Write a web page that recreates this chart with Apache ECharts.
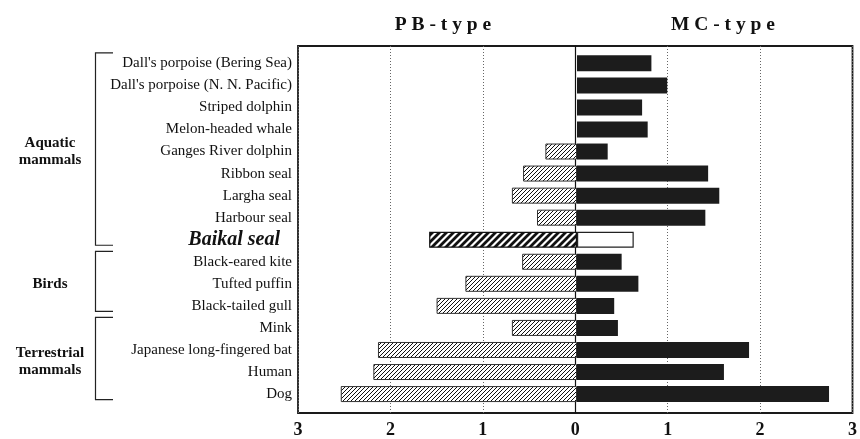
<!DOCTYPE html>
<html>
<head>
<meta charset="utf-8">
<script src="https://cdn.jsdelivr.net/npm/echarts@6/dist/echarts.min.js"></script>
<style>
  html, body { margin: 0; padding: 0; background: #fff; }
  #chart { width: 860px; height: 439px; }
</style>
</head>
<body>
<div id="chart"></div>
<script>
// Species, top to bottom
const categories = [
  "Dall's porpoise (Bering Sea)",
  "Dall's porpoise (N. N. Pacific)",
  "Striped dolphin",
  "Melon-headed whale",
  "Ganges River dolphin",
  "Ribbon seal",
  "Largha seal",
  "Harbour seal",
  "Baikal seal",
  "Black-eared kite",
  "Tufted puffin",
  "Black-tailed gull",
  "Mink",
  "Japanese long-fingered bat",
  "Human",
  "Dog"
];

// PB-type values (drawn to the left of zero)
const pbValues = [null, null, null, null, 0.34, 0.58, 0.70, 0.43, 1.59, 0.59, 1.20, 1.51, 0.70, 2.14, 2.19, 2.54];
// MC-type values (drawn to the right of zero)
const mcValues = [0.80, 0.97, 0.70, 0.76, 0.33, 1.41, 1.53, 1.38, 0.61, 0.48, 0.66, 0.40, 0.44, 1.85, 1.58, 2.71];

// Axis extent, shown as absolute values on both sides
const axisMin = -3;
const axisMax = 3;
const axisStep = 1;

const highlight = "Baikal seal";

const groups = [
  { name: "Aquatic\nmammals", from: 0, to: 8 },
  { name: "Birds", from: 9, to: 11 },
  { name: "Terrestrial\nmammals", from: 12, to: 15 }
];

const serif = "'Liberation Serif', 'Times New Roman', serif";

// Diagonal hatch fill made on a small canvas tile
function hatch(size, width, bg) {
  const c = document.createElement('canvas');
  c.width = size; c.height = size;
  const ctx = c.getContext('2d');
  ctx.fillStyle = bg;
  ctx.fillRect(0, 0, size, size);
  ctx.strokeStyle = '#111';
  ctx.lineWidth = width;
  ctx.lineCap = 'square';
  ctx.beginPath();
  ctx.moveTo(-1, 1); ctx.lineTo(1, -1);
  ctx.moveTo(0, size); ctx.lineTo(size, 0);
  ctx.moveTo(size - 1, size + 1); ctx.lineTo(size + 1, size - 1);
  ctx.stroke();
  return { image: c, repeat: 'repeat' };
}

const fineHatch = hatch(4, 1, '#fff');
const boldHatch = hatch(7, 2.8, '#fff');

const hi = categories.indexOf(highlight);

const pbData = pbValues.map((v, i) => {
  if (v === null) return '-';
  return {
    value: -v,
    itemStyle: i === hi
      ? { color: boldHatch, borderColor: '#111', borderWidth: 1.2 }
      : { color: fineHatch, borderColor: '#333', borderWidth: 1 }
  };
});

const mcData = mcValues.map((v, i) => ({
  value: v,
  itemStyle: i === hi
    ? { color: '#fff', borderColor: '#222', borderWidth: 1.2 }
    : { color: '#1c1c1c' }
}));

const chart = echarts.init(document.getElementById('chart'), null, { renderer: 'canvas' });

const titleStyle = { fontFamily: serif, fontWeight: 'bold', fontSize: 19.5, color: '#111' };

chart.setOption({
  animation: false,
  backgroundColor: '#fff',
  title: [
    { text: 'P B - t y p e', left: 438, top: 10, textAlign: 'center', textStyle: titleStyle },
    { text: 'M C - t y p e', left: 718, top: 10, textAlign: 'center', textStyle: titleStyle }
  ],
  grid: [
    // bars
    { left: 298, right: 4, top: 52.3, height: 352.8, containLabel: false },
    // frame, grid lines, tick labels
    { left: 298, right: 4, top: 46, height: 367, show: true, borderColor: '#1a1a1a', borderWidth: 1.8, backgroundColor: 'transparent' }
  ],
  xAxis: [
    {
      gridIndex: 0, type: 'value', min: axisMin, max: axisMax, interval: axisStep,
      show: false
    },
    {
      gridIndex: 1, type: 'value', min: axisMin, max: axisMax, interval: axisStep,
      axisLine: { show: false },
      axisTick: { show: false },
      axisLabel: {
        margin: 8,
        formatter: v => String(Math.abs(v)),
        fontFamily: serif, fontWeight: 'bold', fontSize: 18, color: '#111'
      },
      splitLine: { show: true, lineStyle: { color: '#666', width: 1, type: [1, 2] } }
    }
  ],
  yAxis: [
    {
      gridIndex: 0, type: 'category', data: categories, inverse: true,
      axisLine: { show: false },
      axisTick: { show: false },
      axisLabel: {
        margin: 6,
        fontFamily: serif, fontSize: 15, color: '#111',
        formatter: v => v === highlight ? '{hl|' + v + '}' : v,
        rich: {
          hl: {
            fontFamily: serif, fontSize: 20, fontWeight: 'bold', fontStyle: 'italic',
            color: '#111', padding: [0, 12, 0, 0]
          }
        }
      }
    },
    {
      gridIndex: 1, type: 'value', min: 0, max: 1,
      axisLine: { show: true, onZero: true, lineStyle: { color: '#111', width: 1.2 } },
      axisTick: { show: false },
      axisLabel: { show: false },
      splitLine: { show: false }
    }
  ],
  series: [
    {
      name: 'PB-type', type: 'bar', xAxisIndex: 0, yAxisIndex: 0,
      data: pbData, barWidth: 16, barGap: '-100%', z: 3
    },
    {
      name: 'MC-type', type: 'bar', xAxisIndex: 0, yAxisIndex: 0,
      data: mcData, barWidth: 16, barGap: '-100%', z: 3
    }
  ]
});

// Group brackets and labels on the left, placed from the category rows
function rowY(i) {
  return chart.convertToPixel({ yAxisIndex: 0 }, categories[i]);
}
const bx = 95.5, bx2 = 113;
const elements = [];
groups.forEach(g => {
  const y1 = rowY(g.from) - 10.5;
  const y2 = rowY(g.to) + 5.5;
  elements.push({
    type: 'polyline',
    shape: { points: [[bx2, y1], [bx, y1], [bx, y2], [bx2, y2]] },
    style: { stroke: '#222', lineWidth: 1.2, fill: null }
  });
  elements.push({
    type: 'text',
    x: 50, y: (y1 + y2) / 2 + 3,
    style: {
      text: g.name, fontFamily: serif, fontWeight: 'bold', fontSize: 15,
      lineHeight: 17, fill: '#111', align: 'center', verticalAlign: 'middle'
    }
  });
});
chart.setOption({ graphic: { elements } });
</script>
</body>
</html>
